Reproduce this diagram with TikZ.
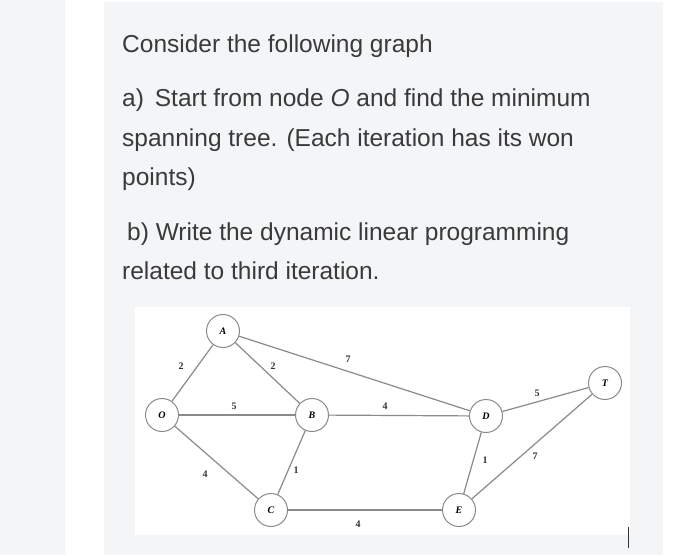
\documentclass[tikz,border=0pt]{standalone}
\usepackage{fontspec}
\setmainfont{Liberation Sans}
\newfontfamily\serifg{Liberation Serif}
\definecolor{bg}{HTML}{F3F5F7}
\definecolor{txt}{HTML}{3A3A3A}
\definecolor{edge}{HTML}{8A8A8A}
\begin{document}
\begin{tikzpicture}[x=1pt,y=-1pt,
  t/.style={anchor=base west,inner sep=0,text=txt,font=\fontsize{24.5}{28}\selectfont},
  v/.style={circle,draw=edge,line width=1pt,fill=white,minimum size=33pt,inner sep=0,font=\fontsize{10}{11}\selectfont\serifg\bfseries\itshape},
  e/.style={edge,line width=1.2pt},
  w/.style={font=\fontsize{10}{11}\selectfont\serifg\bfseries,text=black!80,inner sep=1pt}]
\useasboundingbox (0,0) rectangle (700,555);
\fill[bg] (0,0) rectangle (65,555);
\fill[bg] (104,2) rectangle (663,555);
\fill[white] (135,307) rectangle (630,535);
\node[t] (l1) at (122,52) {Consider the following graph};
\node[t] (l2) at (122,106) {a)\, Start from node \textit{O} and find the minimum};
\node[t] (l3) at (122,146) {spanning tree. (Each iteration has its won};
\node[t] (l4) at (122,185) {points)};
\node[t] (l5) at (127,240) {b) Write the dynamic linear programming};
\node[t] (l6) at (122,279) {related to third iteration.};
\node[v] (A) at (223,331) {A};
\node[v] (O) at (162,415) {O};
\node[v] (B) at (312,415) {B};
\node[v] (D) at (486,416) {D};
\node[v] (T) at (605,383) {T};
\node[v] (C) at (271,510) {C};
\node[v] (E) at (459,510) {E};
\draw[e] (O)--(A); \draw[e] (A)--(B); \draw[e] (A)--(D); \draw[e] (O)--(B);
\draw[e] (B)--(D); \draw[e] (D)--(T); \draw[e] (O)--(C); \draw[e] (B)--(C);
\draw[e] (C)--(E); \draw[e] (D)--(E); \draw[e] (E)--(T);
\node[w] (w1) at (181,366) {2};
\node[w] (w2) at (273,366) {2};
\node[w] (w3) at (348,359) {7};
\node[w] (w4) at (234,406) {5};
\node[w] (w5) at (385,406) {4};
\node[w] (w6) at (537,393) {5};
\node[w] (w7) at (205,474) {4};
\node[w] (w8) at (296,470) {1};
\node[w] (w9) at (485,460) {1};
\node[w] (w10) at (535,456) {7};
\node[w] (w11) at (358,524) {4};
\draw[black!80,line width=1pt] (628,527) -- (628,548);
\end{tikzpicture}
\end{document}
